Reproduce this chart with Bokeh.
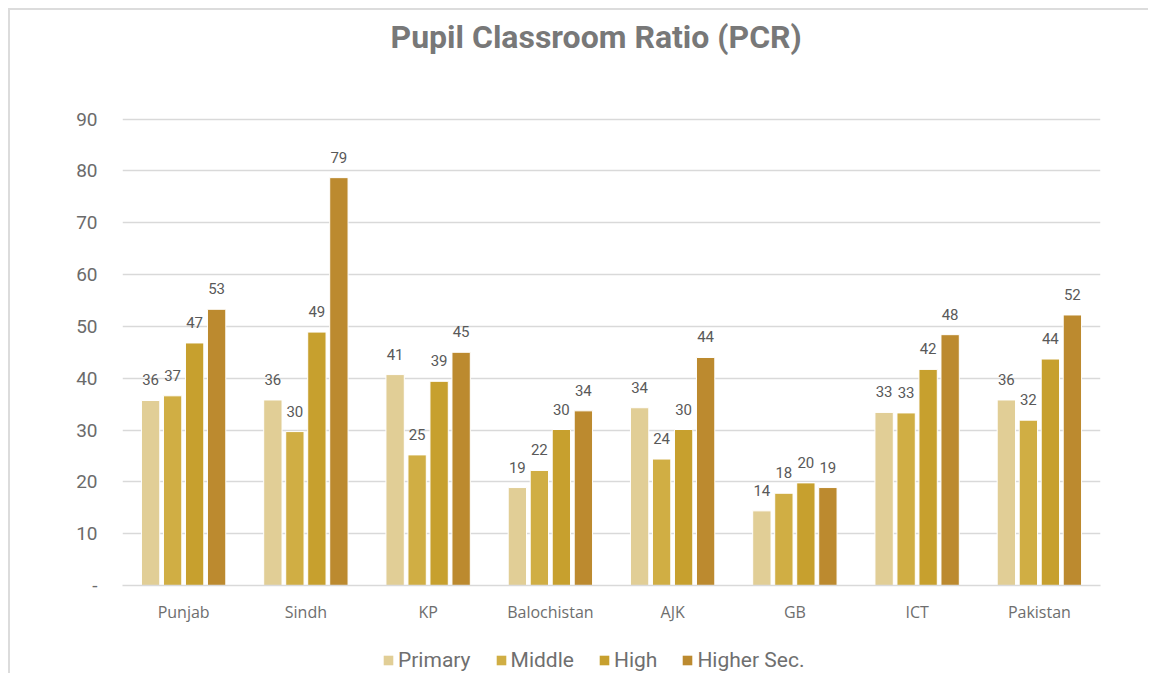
from bokeh.plotting import figure
from bokeh.layouts import column
from bokeh.models import ColumnDataSource, FactorRange, Range1d, FixedTicker, Legend, LegendItem, LabelSet
from bokeh.transform import dodge
from bokeh.core.properties import value
from bokeh.embed import file_html
from bokeh.resources import INLINE

regions = ["Punjab", "Sindh", "KP", "Balochistan", "AJK", "GB", "ICT", "Pakistan"]
series_names = ["Primary", "Middle", "High", "Higher Sec."]
primary = [35.7, 35.8, 40.7, 18.9, 34.3, 14.4, 33.4, 35.8]
middle = [36.6, 29.7, 25.2, 22.2, 24.4, 17.8, 33.3, 31.9]
high = [46.8, 48.9, 39.4, 30.1, 30.1, 19.8, 41.7, 43.7]
higher_sec = [53.3, 78.7, 45.0, 33.7, 44.0, 18.9, 48.4, 52.2]
colors = ["#E1CE96", "#D0AE44", "#C7A02E", "#BC8A2F"]
y_ticks = [0, 10, 20, 30, 40, 50, 60, 70, 80, 90]

data = {"region": regions}
series_values = [primary, middle, high, higher_sec]
keys = ["s0", "s1", "s2", "s3"]
for k, vals in zip(keys, series_values):
    data[k] = vals
    data[k + "_lbl"] = [str(int(round(v))) for v in vals]
src = ColumnDataSource(data)

p = figure(x_range=FactorRange(*regions, range_padding=0), y_range=Range1d(0, 90.5),
           width=1138, height=622, output_backend="svg", toolbar_location=None,
           min_border_left=112, min_border_right=48, min_border_top=106, min_border_bottom=47)

p.title.text = "Pupil Classroom Ratio (PCR)"
p.title.align = "left"
p.title.offset = 268
p.title.text_font = "Roboto"
p.title.text_font_size = "32px"
p.title.text_font_style = "bold"
p.title.text_color = "#787878"
p.title.padding = dict(left=0, right=0, top=0, bottom=56)

offsets = [-0.27, -0.09, 0.09, 0.27]
for k, off, col in zip(keys, offsets, colors):
    p.vbar(x=dodge("region", off, range=p.x_range), top=k, width=0.15, source=src,
           fill_color=col, line_color="white", line_width=1)
    lbl = LabelSet(x=dodge("region", off, range=p.x_range), y=k, text=k + "_lbl", source=src,
                   text_align="center", text_baseline="bottom", y_offset=15,
                   text_font=value("Roboto"), text_font_size="15px", text_color="#595959")
    p.add_layout(lbl)

p.outline_line_color = None
p.background_fill_color = "white"
p.xgrid.grid_line_color = None
p.ygrid.grid_line_color = "#D9D9D9"
p.ygrid.grid_line_width = 1.5
p.yaxis.ticker = FixedTicker(ticks=y_ticks)
p.yaxis.major_label_overrides = {0: "-"}
p.yaxis.axis_line_color = None
p.yaxis.major_tick_line_color = None
p.yaxis.minor_tick_line_color = None
p.yaxis.major_label_standoff = 19
p.yaxis.major_label_text_font = "Roboto"
p.yaxis.major_label_text_font_size = "19px"
p.yaxis.major_label_text_color = "#6B6B6B"

p.xaxis.axis_line_color = "#D9D9D9"
p.xaxis.axis_line_width = 1.5
p.xaxis.major_tick_line_color = None
p.xaxis.minor_tick_line_color = None
p.xaxis.major_label_standoff = 9
p.xaxis.major_label_text_font = "Open Sans"
p.xaxis.major_label_text_font_size = "16px"
p.xaxis.major_label_text_color = "#6E6E6E"

# legend strip below the chart (off-range placeholder glyphs only carry the legend swatches)
p2 = figure(width=1138, height=41, output_backend="svg", toolbar_location=None,
            x_range=Range1d(0, 1), y_range=Range1d(0, 1), x_axis_type=None, y_axis_type=None,
            min_border=0)
p2.outline_line_color = None
p2.xgrid.grid_line_color = None
p2.ygrid.grid_line_color = None
items = []
for col, name in zip(colors, series_names):
    r = p2.vbar(x=[-5], top=[-5], width=0.1, fill_color=col, line_color=None)
    items.append(LegendItem(label=name, renderers=[r]))
legend = Legend(items=items, orientation="horizontal", location=(260, 1),
                label_text_font="Roboto", label_text_font_size="21px", label_text_color="#6F6F6F",
                glyph_width=12, glyph_height=12, label_standoff=4, spacing=24,
                padding=0, margin=0, border_line_color=None, background_fill_alpha=0)
p2.add_layout(legend)

layout = column(p, p2, spacing=0,
                styles={"margin-left": "8px", "margin-top": "8px",
                        "border-left": "2px solid #DCDCDC", "border-top": "2px solid #DCDCDC"})

open("out.html", "w").write(file_html(layout, INLINE))
